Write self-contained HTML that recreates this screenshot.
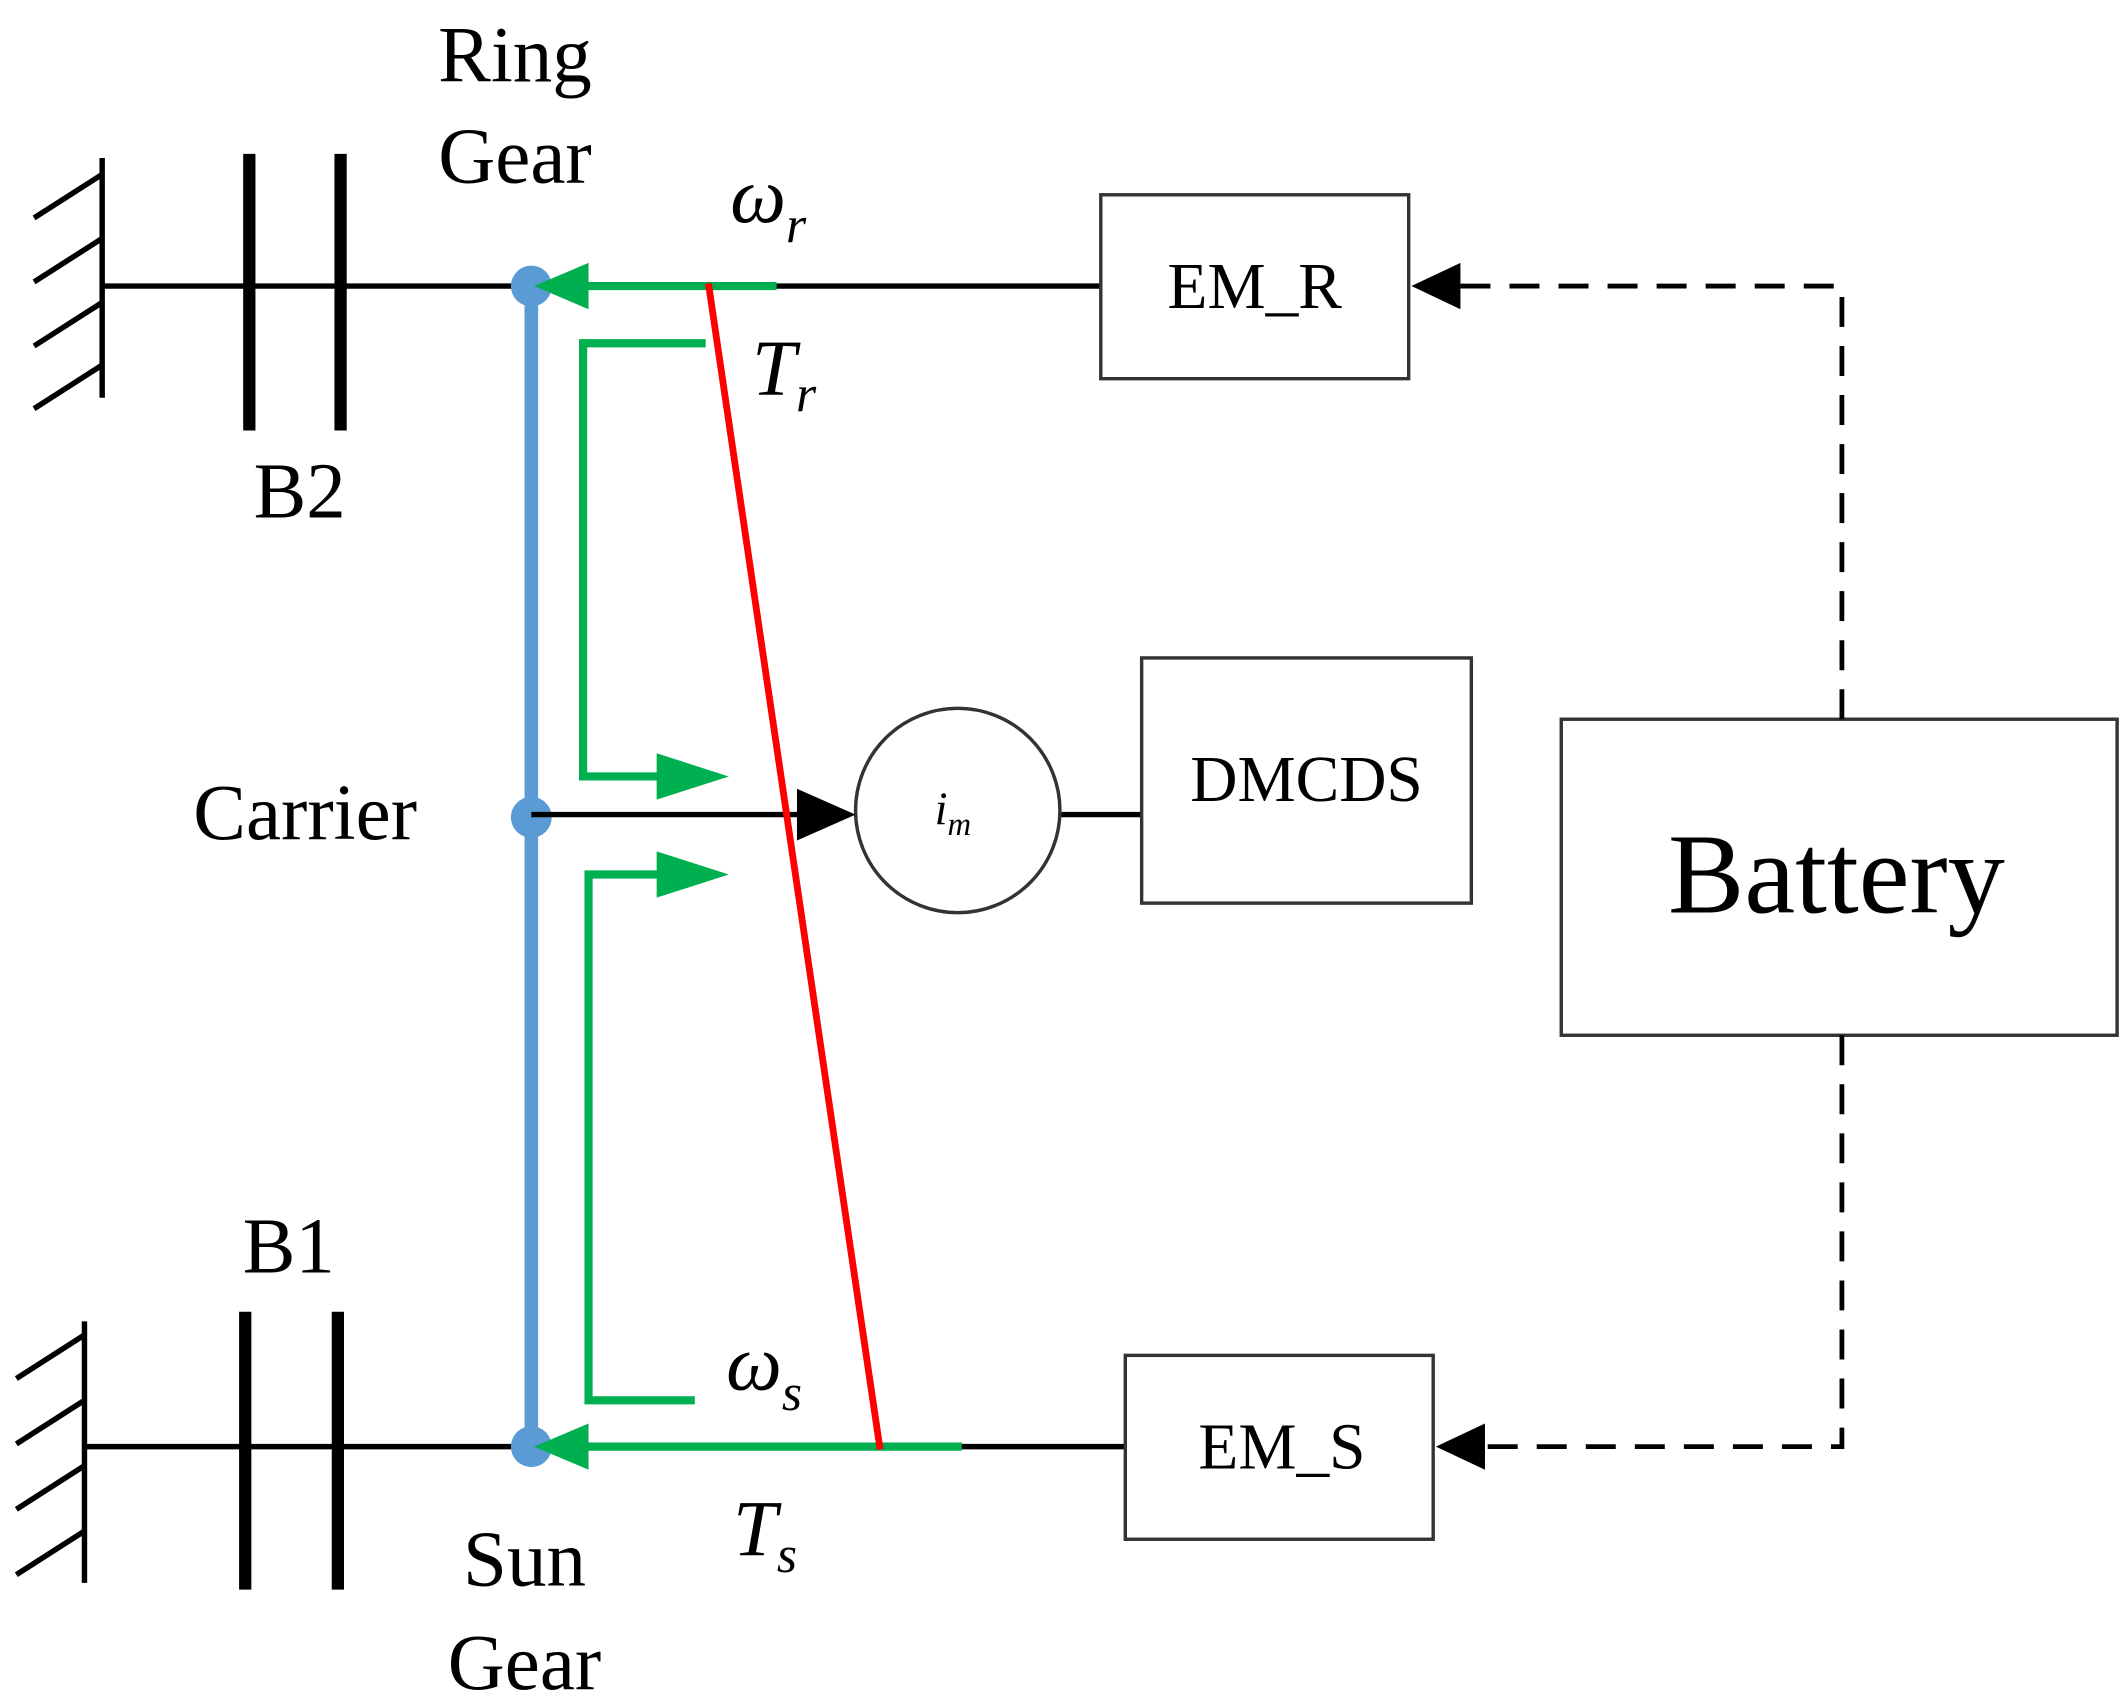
<!DOCTYPE html>
<html><head><meta charset="utf-8"><style>html,body{margin:0;padding:0;background:#fff}svg{display:block}</style></head>
<body>
<svg width="2128" height="1700" viewBox="0 0 1562 1248" preserveAspectRatio="none" xmlns="http://www.w3.org/2000/svg" font-family="'Liberation Serif', serif">
<g stroke="#000" stroke-width="4" fill="none">
<line x1="75" y1="116" x2="75" y2="292"/>
<line x1="75" y1="128" x2="25" y2="160"/>
<line x1="75" y1="175" x2="25" y2="207"/>
<line x1="75" y1="222" x2="25" y2="254"/>
<line x1="75" y1="268" x2="25" y2="300"/>
<line x1="75" y1="210" x2="390" y2="210"/>
<line x1="62" y1="970" x2="62" y2="1162"/>
<line x1="62" y1="980" x2="12" y2="1012"/>
<line x1="62" y1="1028" x2="12" y2="1060"/>
<line x1="62" y1="1076" x2="12" y2="1108"/>
<line x1="62" y1="1124" x2="12" y2="1156"/>
<line x1="62" y1="1062" x2="390" y2="1062"/>
<line x1="570" y1="210" x2="808" y2="210"/>
<line x1="700" y1="1062" x2="826" y2="1062"/>
<line x1="778" y1="598" x2="838" y2="598"/>
</g>
<g stroke="#000" stroke-width="9">
<line x1="183" y1="113" x2="183" y2="316"/>
<line x1="250" y1="113" x2="250" y2="316"/>
<line x1="180" y1="963" x2="180" y2="1167"/>
<line x1="248" y1="963" x2="248" y2="1167"/>
</g>
<g stroke="#333" stroke-width="2.5" fill="#fff">
<rect x="808" y="143" width="226" height="135"/>
<rect x="838" y="483" width="242" height="180"/>
<rect x="1146" y="528" width="408" height="232"/>
<rect x="826" y="995" width="226" height="135"/>
<circle cx="703" cy="595" r="75"/>
</g>
<g stroke="#000" stroke-width="3.5" fill="none" stroke-dasharray="22,14">
<polyline points="1352,528 1352,210 1070,210"/>
<polyline points="1352,760 1352,1062 1090,1062"/>
</g>
<path d="M1036,210 L1072,193 L1072,227 z" fill="#000"/>
<path d="M1054,1062 L1090,1045 L1090,1079 z" fill="#000"/>
<line x1="390" y1="210" x2="390" y2="1062" stroke="#5b9bd5" stroke-width="10"/>
<g fill="#5b9bd5"><circle cx="390" cy="210" r="15"/><circle cx="390" cy="600" r="15"/><circle cx="390" cy="1062" r="15"/></g>
<g stroke="#00b050" stroke-width="6" fill="none">
<line x1="570" y1="210" x2="425" y2="210"/>
<line x1="706" y1="1062" x2="425" y2="1062"/>
<polyline points="518,252 428,252 428,570 490,570"/>
<polyline points="510,1028 432,1028 432,642 490,642"/>
</g>
<g fill="#00b050">
<path d="M392,210 L432,193 L432,227 z"/>
<path d="M392,1062 L432,1045 L432,1079 z"/>
<path d="M535,570 L482,553 L482,587 z"/>
<path d="M535,642 L482,625 L482,659 z"/>
</g>
<line x1="390" y1="598" x2="590" y2="598" stroke="#000" stroke-width="4"/>
<path d="M628,598 L585,579 L585,617 z" fill="#000"/>
<line x1="520" y1="208" x2="646" y2="1064" stroke="#ff0000" stroke-width="5"/>
<g fill="#000" font-size="58" text-anchor="middle">
<text x="378" y="60">Ring</text>
<text x="378" y="134">Gear</text>
<text x="220" y="380">B2</text>
<text x="212" y="934">B1</text>
<text x="224" y="616">Carrier</text>
<text x="385" y="1164">Sun</text>
<text x="385" y="1240">Gear</text>
<text x="921" y="226" font-size="48">EM_R</text>
<text x="959" y="588" font-size="48">DMCDS</text>
<text x="941" y="1078" font-size="48">EM_S</text>
<text x="1348" y="670" font-size="84">Battery</text>
</g>
<g fill="#000" font-style="italic" font-size="58">
<text x="536" y="163">ω<tspan font-size="38" dy="15">r</tspan></text>
<text x="552" y="290">T<tspan font-size="38" dy="12">r</tspan></text>
<text x="533" y="1020">ω<tspan font-size="38" dy="15">s</tspan></text>
<text x="538" y="1142">T<tspan font-size="38" dy="12">s</tspan></text>
<text x="686" y="605" font-size="34">i<tspan font-size="24" dy="8">m</tspan></text>
</g>
</svg>
</body></html>
